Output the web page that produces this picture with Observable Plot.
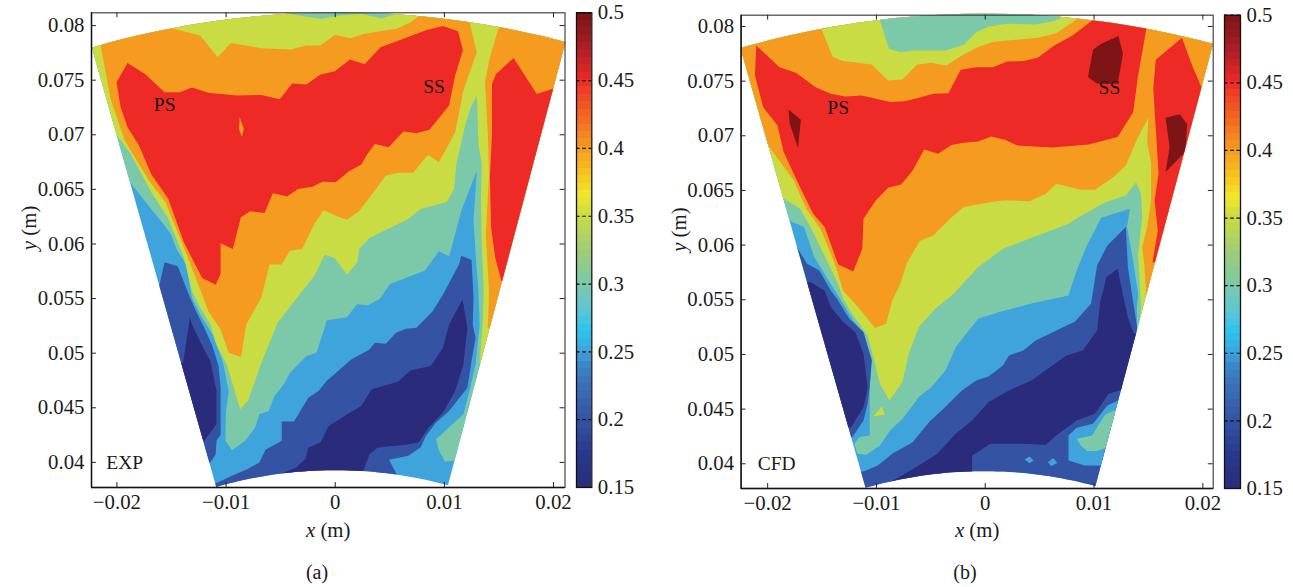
<!DOCTYPE html>
<html>
<head>
<meta charset="utf-8">
<script src="https://cdn.jsdelivr.net/npm/d3@7"></script>
<script src="https://cdn.jsdelivr.net/npm/@observablehq/plot@0.6"></script>
<style>
html,body{margin:0;padding:0;background:#fff}
#page{position:relative;width:1293px;height:587px;overflow:hidden;font-family:"Liberation Serif",serif;color:#1a1a1a}
#page svg{position:absolute;background:transparent;overflow:visible}
.cap{position:absolute;font-size:20px;line-height:22px;transform:translateX(-50%)}
</style>
</head>
<body>
<div id="page"></div>
<script>
// ---- values: positions in millimetres on the measurement plane, levels in contour units
const xTicks = [-0.02, -0.01, 0, 0.01, 0.02];
const xTickLabels = ["\u22120.02", "\u22120.01", "0", "0.01", "0.02"];
const yTicks = [0.04, 0.045, 0.05, 0.055, 0.06, 0.065, 0.07, 0.075, 0.08];
const yTickLabels = ["0.04", "0.045", "0.05", "0.055", "0.06", "0.065", "0.07", "0.075", "0.08"];
const barTicks = [0.15, 0.2, 0.25, 0.3, 0.35, 0.4, 0.45, 0.5];
const barTickLabels = ["0.15", "0.2", "0.25", "0.3", "0.35", "0.4", "0.45", "0.5"];
const colorValues = [0.15, 0.175, 0.2, 0.225, 0.24, 0.25, 0.265, 0.28, 0.3, 0.325, 0.35, 0.365, 0.38, 0.4, 0.42, 0.44, 0.45, 0.47, 0.485, 0.5];
const colorHexes = ["#2a2b7a", "#27398f", "#3553a5", "#3a6fb9", "#3b87c9", "#3fa3dc", "#2ac4ef", "#5cc6d6", "#7cc9aa", "#a0cc74", "#c9dc44", "#f2e62c", "#f7c51e", "#f59c20", "#f26f22", "#ef4425", "#ee2a27", "#b72026", "#931b20", "#7f1416"];
const barSteps = 64;
const everywhere = [[-24, 36], [24, 36], [24, 83], [-24, 83]];

// EXP sector corners (top-left, top-right, bottom-right, bottom-left)
const expCorners = [[-22.3, 78.0], [21.1, 78.5], [10.33, 37.9], [-10.9, 37.75]];
const expTeal = [[-24,83],[24,83],[16,40.14],[10.88,40.14],[10.06,40.08],[9.5,41.06],[9.23,42.12],[11.74,44.41],[12.3,46.54],[12.86,48.97],[13.23,52.63],[13.12,55.67],[12.86,59.08],[12.67,62.14],[12.97,66.72],[11.55,63.05],[10.99,60.92],[10.43,58.87],[9.5,59.33],[8.19,57.56],[5.01,56.34],[4.07,54.96],[2.95,54.36],[2.02,54.51],[1.08,53.3],[-0.79,52.99],[-0.97,52.32],[-1.72,50.04],[-2.65,49.73],[-4.15,48.21],[-4.71,47.15],[-5.57,46.08],[-6.09,44.71],[-6.95,44.41],[-7.33,43.19],[-8.26,41.97],[-9.46,41.12],[-10.06,41.97],[-10.02,44.41],[-9.76,46.54],[-10.32,49.28],[-11.25,51.71],[-12.37,53.54],[-13.12,55.06],[-13.68,58.17],[-14.54,59.54],[-15.07,60.92],[-15.74,61.83],[-16.86,63.21],[-18.8,65.65],[-24,65.65]];
const expGreen = [[-24,83],[24,83],[16.04,49.12],[13.23,49.12],[13.5,52.63],[13.61,55.67],[13.42,59.69],[13.35,63.97],[13.42,67.33],[13.12,69.16],[12.97,73.59],[12.49,72.67],[11.93,70.99],[11.1,67.33],[10.88,65.04],[10.24,63.85],[7.81,63.21],[6.69,62.29],[3.14,60.55],[2.21,59.54],[2.02,58.32],[1.08,57.19],[-0.04,58.72],[-0.97,59.02],[-1.91,57.1],[-3.59,54.96],[-5.27,52.78],[-6.77,49.12],[-8,45.62],[-8.71,44.86],[-9.94,48.97],[-10.88,50.8],[-11.44,52.63],[-12.37,54.15],[-13.12,55.67],[-13.87,58.78],[-15.36,62.44],[-16.86,64.73],[-18.73,68.24],[-20.22,70.23],[-24,70.23]];
const expOrange = [[-21.53,82.3],[12.3,82.3],[12.3,80.31],[12.97,77.56],[11.74,74.05],[10.99,70.23],[9.5,67.48],[8.49,68.18],[7.14,66.53],[5.76,66.53],[4.64,66.26],[3.4,64.58],[2.21,63.05],[1.08,62.23],[-0.04,62.6],[-1.05,63.11],[-1.91,61.83],[-3.03,59.54],[-4.15,59.39],[-4.9,58.11],[-6.02,58.11],[-6.77,55.11],[-8.15,52.63],[-8.64,49.64],[-9.76,50.04],[-10.5,52.17],[-11.63,53.84],[-12.19,55.37],[-14.06,60.15],[-15.55,63.82],[-17.05,65.8],[-19.29,69.47],[-20.6,73.34],[-21.53,78.38]];
const expOrangeRight = [[14.99,79.85],[14.99,82.3],[23.5,82.3],[16.04,52.3],[13.98,52.32],[14.09,55.67],[13.79,60.92],[14.09,66.41],[13.98,70.08],[13.72,74.81],[14.17,77.1]];
const expRed = [[-20.04,74.81],[-19.03,76.58],[-17.42,75.57],[-15.63,73.89],[-14.24,73.89],[-13.12,74.32],[-11.63,73.86],[-9.01,73.59],[-6.77,73.65],[-5.08,73.25],[-3.96,74.69],[-2.65,74.6],[-1.35,75.51],[-0.04,75.82],[1.35,76.89],[2.69,76.46],[4.15,78.02],[5.38,78.47],[8.37,79.6],[9.87,79.97],[11.25,79.48],[11.7,77.77],[10.99,75.42],[10.43,72.67],[8.64,70.47],[7.44,70.14],[6.24,70.29],[4.9,68.85],[3.63,69.16],[2.95,68.24],[2.39,67.27],[1.27,66.66],[0.04,65.65],[-1.16,65.71],[-2.09,65.25],[-3.4,65.04],[-4.41,64.34],[-5.72,64.64],[-6.47,62.84],[-7.78,62.99],[-8.64,62.44],[-9.38,59.54],[-10.5,60.06],[-10.5,57.25],[-10.95,56.27],[-12.19,56.89],[-13.87,60.15],[-15.29,64.12],[-16.86,66.41],[-17.98,69.01],[-19.03,70.69],[-19.66,72.52]];
const expRedRight = [[14.36,74.66],[14.73,75.57],[16.34,77.04],[18.47,73.74],[20.07,74.26],[21.6,74.26],[16.4,56],[15.21,56.64],[14.65,58.78],[14.28,61.53],[14.17,66.11],[14.36,70.08]];
const expOrangeSpot = [[-8.75,71.6],[-8.37,70.53],[-8.56,69.83],[-8.82,70.53]];
const expTopGreen = [[-15.18,79.79],[-12.37,79.08],[-10.77,77.1],[-9.57,78.41],[-6.77,77.92],[-4.07,77.8],[-2.65,78.17],[-1.35,78.17],[-0.04,79.15],[1.38,78.84],[2.58,79.24],[4.07,79.48],[5.57,79.69],[6.88,80.31],[7.63,80.85],[7.63,83],[-15.18,83]];
const expTopTeal = [[-4.52,81.13],[-1.35,80.61],[0.34,80.92],[2.39,81.07],[4.26,80.67],[6.13,81.22],[6.13,83],[-4.52,83]];
const expBlue = [[-11.07,38.01],[-9.01,38.99],[-8.07,39.38],[-6.95,39.99],[-6.39,41.15],[-4.9,41.97],[-4.9,43.74],[-3.78,43.74],[-2.47,45.93],[-1.53,46.54],[-0.79,47.45],[1.46,49.43],[3.14,50.34],[3.63,50.95],[4.64,50.86],[5.57,51.86],[6.5,52.23],[7.44,52.32],[8.93,53.84],[9.87,55.37],[11.36,58.17],[11.55,58.93],[12.49,58.53],[12.67,55.11],[12.6,52.63],[12.86,51.41],[12.49,49.28],[12.11,46.84],[10.43,44.71],[9.23,43.65],[8.26,42.34],[7.81,41.36],[6.69,40.6],[4.93,40.24],[5.64,38.87],[5.64,36.2],[-12,36.2]];
const expBlueLeft = [[-15.63,58.32],[-14.43,57.95],[-13.31,55.11],[-12.75,53.84],[-12,52.32],[-11.25,50.65],[-10.69,48.82],[-10.5,46.84],[-10.5,43.49],[-10.5,42.52],[-10.88,41.97],[-10.95,40.75],[-11.44,39.99],[-13.87,39.99],[-16.3,55.42]];
const expNavy = [[-4.9,38.99],[-3.59,39.54],[-2.73,40.3],[-2.47,41.36],[-1.35,41.82],[-0.6,43.34],[1.08,44.41],[2.39,45.17],[3.33,46.69],[5.76,47.39],[6.88,48.42],[8.75,48.82],[9.87,50.49],[10.43,52.63],[11.66,54.91],[12.11,52.32],[11.74,48.97],[11,46.54],[9.87,44.56],[8.56,43.19],[7.63,41.82],[6.5,41.61],[3.89,41.36],[3.14,40.75],[2.5,39.08],[2.5,36.2],[-4.9,36.2]];
const expNavyLeft = [[-13.31,53.3],[-13.94,49.12],[-15.7,49.12],[-13.87,41.97],[-11.99,41.97],[-10.88,43.49],[-10.88,46.54],[-11.44,49.28],[-12.19,50.65],[-13.12,52.63]];

// CFD sector
const cfdCorners = [[-22.5, 78.02], [20.94, 78.41], [10.13, 37.96], [-11.0, 37.8]];
const cfdTeal = [[-24,83],[24,83],[24,50.9],[13.94,51.89],[13.94,54.33],[14.05,55.55],[13.48,59.21],[13.03,61.65],[13.3,63.32],[10.66,62.5],[9.34,59.97],[8.4,57.68],[7.65,55.4],[4.44,54.7],[1.24,53.87],[-0.64,53.26],[-2.71,50.67],[-3.65,48.54],[-4.97,47.01],[-6.1,46.1],[-6.67,45.34],[-7.61,44.12],[-8.74,43.05],[-9.68,41.68],[-10.92,40.82],[-11.75,40.91],[-12.05,41.83],[-11.56,42.44],[-10.62,42.59],[-10.62,47.01],[-10.43,49.6],[-11.19,52.04],[-12.13,53.11],[-13.07,54.63],[-14.58,57.07],[-15.71,58.9],[-16.65,61.65],[-18.04,62.26],[-24,62.26]];
const cfdGreen = [[-24,83],[24,83],[24,52.35],[14.16,52.35],[14.31,54.33],[14.24,55.55],[14.05,59.21],[14.43,62.56],[14.31,64.7],[13.86,65.76],[12.92,64.54],[11.04,63.93],[8.59,62.56],[7.65,61.95],[4.82,60.88],[1.62,59.66],[-0.64,57.99],[-2.9,55.55],[-4.6,54.18],[-6.1,52.5],[-7.04,50.06],[-7.61,47.47],[-8.81,45.79],[-9.68,47.32],[-10.24,49.6],[-10.81,51.74],[-12.13,53.57],[-13.07,55.09],[-13.52,56.46],[-14.65,58.75],[-15.89,61.34],[-17.02,63.32],[-18.64,64.33],[-24,64.33]];
const cfdGreenSpot = [[-9.49,45.24],[-9.23,44.51],[-10.32,44.33]];
const cfdOrange = [[-24,83],[24,83],[24,55.4],[14.8,55.4],[14.61,58.29],[14.43,59.82],[14.88,61.65],[15.25,64.09],[15.25,67.44],[14.88,69.42],[14.99,71.65],[14.05,69.88],[12.92,67.29],[11.79,66.22],[10.09,65.06],[8.78,65.06],[6.52,65.61],[5.57,64.7],[4.07,64.02],[1.81,64.09],[0.68,63.96],[-1.96,63.48],[-3.09,62.56],[-4.78,60.88],[-6.03,60.37],[-7.23,58.29],[-7.8,56.46],[-8.55,54.94],[-9.11,52.8],[-10.13,52.41],[-11.56,54.18],[-13.07,55.85],[-13.82,58.29],[-15.14,61.49],[-16.46,63.32],[-17.59,65.91],[-18.72,67.44],[-20.04,69.27],[-24,69.27]];
const cfdTopGreen = [[-15.03,79.7],[-14.01,77.2],[-13.07,76.83],[-10.43,76.52],[-8.93,75.06],[-7.61,75.15],[-6.29,76.49],[-4.97,76.68],[-3.58,76.43],[-2.15,77.35],[-0.64,78.11],[0.68,78.57],[2,78.72],[4.82,78.96],[6.52,79.39],[8.4,80.64],[8.4,83],[-15.03,83]];
const cfdTopTeal = [[-9.68,80.55],[-8.85,77.96],[-7.8,77.65],[-6.67,77.8],[-3.65,77.8],[-1.96,78.32],[-0.83,79.48],[0.3,80],[2,80.24],[4.63,80.18],[6.33,80.49],[6.89,80.7],[6.89,83],[-9.68,83]];
const cfdRed = [[-21.05,78.26],[-18.91,76.28],[-17.4,75.76],[-15.59,74.45],[-14.2,73.84],[-12.88,73.6],[-11.37,73.69],[-8.74,73.08],[-7.42,73.17],[-6.1,73.48],[-4.78,73.84],[-3.39,73.9],[-2.26,76.04],[-0.83,76.28],[0.68,76.28],[2,76.8],[3.5,76.83],[4.82,77.13],[6.33,78.26],[8.02,79.18],[9.83,80.55],[9.83,82.5],[14.8,82.5],[14.8,79.73],[14.05,75.52],[13.6,72.16],[12.17,69.88],[9.53,69.21],[6.14,68.93],[4.07,69.05],[2.94,69.12],[1.81,69.63],[0.56,69.94],[-0.64,69.48],[-1.96,69.36],[-3.09,69.15],[-4.33,68.35],[-5.61,68.75],[-6.67,66.83],[-7.72,65.55],[-8.93,65.24],[-10.06,64.09],[-11.19,62.41],[-11.3,59.66],[-12.13,57.59],[-13.52,58.23],[-14.76,61.65],[-15.82,62.87],[-17.02,65.3],[-18.53,68.51],[-19.1,70.95],[-20.41,72.62],[-21.17,75.52]];
const cfdRedRight = [[18.08,78.96],[19.02,76.43],[19.89,74.39],[21.96,74.39],[17.8,58.44],[15.37,58.44],[15.86,61.34],[15.56,64.09],[15.93,66.52],[15.74,69.57],[15.44,74.3],[15.67,76.95]];
const cfdDarkLeft = [[-18.08,72.41],[-16.95,71.46],[-17.21,68.9],[-17.97,71.1]];
const cfdDarkTop = [[9.91,77.9],[10.66,78.41],[12.24,79.12],[12.66,77.5],[12.17,74.76],[10.28,74.76],[9.45,75.37]];
const cfdDarkRight = [[16.57,71.65],[17.89,71.98],[18.57,71.04],[18.38,68.51],[16.57,66.68],[16.95,68.96]];
const cfdBlue = [[-13.07,39.3],[-11.19,39.3],[-9.87,39.85],[-8.55,40.91],[-6.67,41.98],[-5.16,43.81],[-3.84,45.03],[-2.15,46.71],[-0.83,47.62],[0.3,47.99],[1.62,48.99],[2.18,49.91],[3.5,50.37],[4.63,51.28],[7.83,52.8],[8.21,52.96],[9.72,54.63],[10.28,58.14],[11.22,59.97],[12.92,61.65],[13.11,57.99],[13.48,55.55],[14.05,51.89],[16.7,51.89],[16.7,36.3],[-13.07,36.3]];
const cfdBlueLeft = [[-17.59,60.27],[-16.38,58.29],[-15.25,57.68],[-14.2,55.85],[-13.63,55.09],[-12.5,53.26],[-11.19,52.04],[-10.43,49.45],[-10.62,47.01],[-10.81,45.49],[-11.19,43.96],[-12.2,42.44],[-14.2,42.44],[-19.47,60.27]];
const cfdNavy = [[-9.87,36.34],[-9.87,37.87],[-8.17,38.63],[-6.1,39.85],[-4.41,40.91],[-2.71,42.74],[-1.21,43.96],[0.3,45.64],[2.18,46.71],[4.26,47.62],[5.76,48.69],[7.46,49.91],[8.96,50.37],[10.28,52.2],[10.58,54.94],[10.85,55.85],[11.11,57.07],[12.17,57.84],[12.73,55.09],[13.11,53.41],[13.67,51.89],[15.56,51.89],[14.05,46.71],[12.35,46.71],[11.34,46.4],[10.09,44.57],[8.4,43.96],[6.52,42.59],[5.57,41.74],[3.31,41.83],[0.49,41.83],[-1.21,40.76],[-1.21,39.39],[-1.21,36.34]];
const cfdNavyLeft = [[-16.08,56.62],[-14.76,55.85],[-14.2,54.33],[-13.07,52.96],[-11.94,52.04],[-11.19,50.06],[-10.81,47.01],[-11.19,45.18],[-11.75,44.27],[-12.32,43.35],[-14.2,43.35],[-18.7,56.62]];
const cfdLightIsland = [[7.65,42.59],[8.4,43.29],[9.91,43.66],[11.22,45.34],[12.35,45.85],[14.4,45.85],[12.54,39.85],[10.73,39.85],[9.15,39.85],[7.65,40.3]];
const cfdTealIsland = [[8.4,42.29],[9.83,42.59],[10.47,43.66],[11.04,44.51],[11.98,44.94],[13.67,44.94],[11.79,41.37],[11.22,41.52],[10.28,41.16],[9.34,41.16],[8.78,41.68]];
const cfdLightSpotA = [[3.62,40.4],[4.07,40.67],[4.44,40.3],[4.07,40.05]];
const cfdLightSpotB = [[5.76,40.15],[6.25,40.52],[6.63,40.06],[6.06,39.79]];

const expLayers = [[everywhere,0.25],[expTeal,0.3],[expGreen,0.35],[expOrange,0.4],[expOrangeRight,0.4],[expRed,0.45],[expRedRight,0.45],[expOrangeSpot,0.4],[expTopGreen,0.35],[expTopTeal,0.3],[expBlue,0.2],[expBlueLeft,0.2],[expNavy,0.15],[expNavyLeft,0.15]];
const cfdLayers = [[everywhere,0.25],[cfdTeal,0.3],[cfdGreen,0.35],[cfdGreenSpot,0.35],[cfdOrange,0.4],[cfdTopGreen,0.35],[cfdTopTeal,0.3],[cfdRed,0.45],[cfdRedRight,0.45],[cfdDarkLeft,0.5],[cfdDarkTop,0.5],[cfdDarkRight,0.5],[cfdBlue,0.2],[cfdBlueLeft,0.2],[cfdNavy,0.15],[cfdNavyLeft,0.15],[cfdLightIsland,0.25],[cfdTealIsland,0.3],[cfdLightSpotA,0.25],[cfdLightSpotB,0.25]];

const colorScale = {type: "linear", domain: colorValues, range: colorHexes, interpolate: "rgb"};
const fontFamily = '"Liberation Serif", serif';
const tickFont = "20.8px";

function rowsOf(layers) {
  return layers.flatMap(([ring, level], id) => ring.map(([x, y]) => ({x: x / 1000, y: y / 1000, level, id})));
}
function sectorPath(corners, sx, sy) {
  const [tl, tr, br, bl] = corners;
  const polar = ([x, y]) => [Math.atan2(x, y), Math.hypot(x, y)];
  const arc = (p, q) => d3.range(41).map(i => {
    const [a0, r0] = polar(p), [a1, r1] = polar(q), t = i / 40;
    const a = a0 + (a1 - a0) * t, r = r0 + (r1 - r0) * t;
    return [sx(r * Math.sin(a) / 1000), sy(r * Math.cos(a) / 1000)];
  });
  return "M" + [...arc(tl, tr), ...arc(br, bl)].map(p => p.join(",")).join("L") + "Z";
}
function italicise(svg, label, letter, rest) {
  d3.select(svg).selectAll("text").each(function () {
    if (this.textContent === label) {
      const t = d3.select(this); t.text(null);
      t.append("tspan").attr("font-style", "italic").text(letter);
      t.append("tspan").text(rest);
    }
  });
}

function panel(cfg) {
  const tick = 0.00045;
  const [x0, x1] = cfg.xDomain, [y0, y1] = cfg.yDomain;
  const svg = Plot.plot({
    width: cfg.right + 5, height: 560,
    marginLeft: cfg.left, marginRight: 5, marginTop: cfg.top, marginBottom: 560 - cfg.bottom,
    style: {fontFamily, fontSize: tickFont, color: "#1a1a1a", background: "transparent"},
    x: {domain: cfg.xDomain, axis: null},
    y: {domain: cfg.yDomain, axis: null},
    color: colorScale,
    marks: [
      Plot.line(rowsOf(cfg.layers), {x: "x", y: "y", z: "id", fill: "level", stroke: "none"}),
      Plot.text(cfg.notes, {x: d => d[0] / 1000, y: d => d[1] / 1000, text: d => d[2], fontSize: 19.5, fill: "#1a1a1a"}),
      Plot.frame({stroke: "#444", strokeWidth: 1.2}),
      Plot.ruleX([x0], {stroke: "#111", strokeWidth: 1.4}),
      Plot.ruleY([y0], {stroke: "#111", strokeWidth: 1.4}),
      Plot.ruleX(xTicks, {y1: y0, y2: y0 + tick, stroke: "#222"}),
      Plot.ruleX(xTicks, {y1: y1, y2: y1 - tick, stroke: "#222"}),
      Plot.ruleY(yTicks, {x1: x0, x2: x0 + tick, stroke: "#222"}),
      Plot.ruleY(yTicks, {x1: x1, x2: x1 - tick, stroke: "#222"}),
      Plot.axisX({anchor: "bottom", ticks: xTicks, tickSize: 0, tickPadding: 7, label: null,
        tickFormat: d => xTickLabels[xTicks.indexOf(d)]}),
      Plot.axisY({anchor: "left", ticks: yTicks, tickSize: 0, tickPadding: 7, label: null,
        tickFormat: d => yTickLabels[yTicks.indexOf(d)]}),
      Plot.text(["x (m)"], {frameAnchor: "bottom", dy: 49, text: d => d}),
      Plot.text(["y (m)"], {frameAnchor: "left", dx: cfg.yLabelDx, rotate: -90, text: d => d})
    ]
  });
  const sx = svg.scale("x").apply, sy = svg.scale("y").apply;
  const sel = d3.select(svg);
  sel.insert("clipPath", ":first-child").attr("id", cfg.clip).append("path").attr("d", sectorPath(cfg.corners, sx, sy));
  sel.select('g[aria-label="line"]').attr("clip-path", `url(#${cfg.clip})`);
  italicise(svg, "x (m)", "x", " (m)");
  italicise(svg, "y (m)", "y", " (m)");
  svg.style.left = "0px"; svg.style.top = "0px";
  return svg;
}

function colorbar(cfg) {
  const v0 = barTicks[0], v1 = barTicks[barTicks.length - 1];
  const bands = d3.range(barSteps).map(i => ({
    lo: v0 + (v1 - v0) * i / barSteps, hi: v0 + (v1 - v0) * (i + 1) / barSteps, mid: v0 + (v1 - v0) * (i + 0.5) / barSteps
  }));
  const w = cfg.x1 - cfg.x0;
  const svg = Plot.plot({
    width: w + 60, height: 510,
    marginLeft: 0, marginRight: 60, marginTop: cfg.top, marginBottom: 510 - cfg.bottom,
    style: {fontFamily, fontSize: tickFont, color: "#1a1a1a", background: "transparent"},
    x: {domain: [0, 1], axis: null},
    y: {domain: [v0, v1], axis: null},
    color: colorScale,
    marks: [
      Plot.rect(bands, {x1: 0, x2: 1, y1: "lo", y2: "hi", fill: "mid", shapeRendering: "crispEdges"}),
      Plot.frame({stroke: "#111", strokeWidth: 1.3}),
      Plot.ruleY(barTicks, {x1: 0, x2: 1, stroke: "#111", strokeWidth: 1.2, strokeDasharray: "3.6,2.6"}),
      Plot.axisY({anchor: "right", ticks: barTicks, tickSize: 0, tickPadding: 6, label: null,
        tickFormat: d => barTickLabels[barTicks.indexOf(d)]})
    ]
  });
  svg.style.left = cfg.x0 + "px"; svg.style.top = "0px";
  return svg;
}

const page = document.getElementById("page");
page.append(panel({
  clip: "sector-exp", left: 91, right: 564.5, top: 12.3, bottom: 487,
  xDomain: [-0.02233, 0.02105], yDomain: [0.0377, 0.08117],
  corners: expCorners, layers: expLayers, yLabelDx: -62,
  notes: [[-15.63, 72.73, "PS"], [9.05, 74.41, "SS"], [-19.29, 39.93, "EXP"]]
}));
page.append(colorbar({x0: 575.7, x1: 591, top: 12.3, bottom: 487}));
const right = panel({
  clip: "sector-cfd", left: 90.6, right: 562.7, top: 14.7, bottom: 488,
  xDomain: [-0.02244, 0.02095], yDomain: [0.03774, 0.08103],
  corners: cfdCorners, layers: cfdLayers, yLabelDx: -62,
  notes: [[-13.52, 72.56, "PS"], [11.41, 74.39, "SS"], [-19.17, 40.0, "CFD"]]
});
right.style.left = "650px";
page.append(right);
page.append(colorbar({x0: 1223.5, x1: 1239.5, top: 14.7, bottom: 488}));
for (const [text, cx] of [["(a)", 317], ["(b)", 965]]) {
  const d = document.createElement("div");
  d.className = "cap"; d.textContent = text; d.style.left = cx + "px"; d.style.top = "561px";
  page.append(d);
}
</script>
</body>
</html>
